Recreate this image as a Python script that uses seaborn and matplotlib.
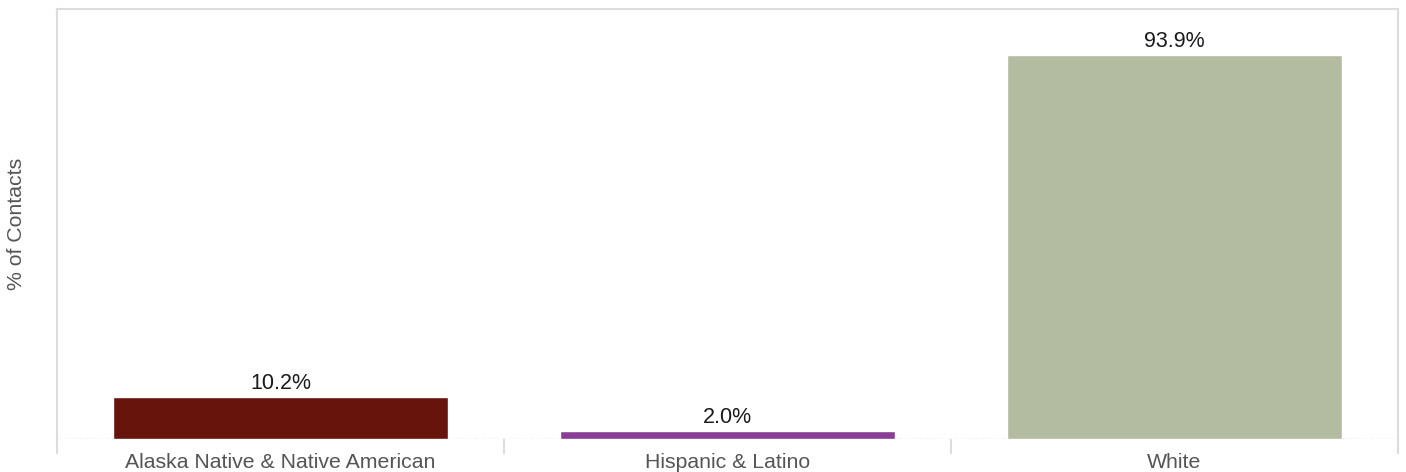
import matplotlib
matplotlib.use("Agg")
import matplotlib.pyplot as plt
import seaborn as sns
import pandas as pd

categories = ["Alaska Native & Native American", "Hispanic & Latino", "White"]
percent_contacts = [10.2, 2.0, 93.9]
bar_colors = ["#67140d", "#893e95", "#b3bca1"]

sns.set_theme(style="white")
plt.rcParams["font.family"] = ["Liberation Sans", "DejaVu Sans"]

df = pd.DataFrame({"group": categories, "pct": percent_contacts})

fig = plt.figure(figsize=(14.06, 4.72), dpi=100)
ax = fig.add_axes([57 / 1406, 1 - 439 / 472, (1398 - 57) / 1406, (439 - 9) / 472])

sns.barplot(data=df, x="group", y="pct", hue="group", palette=bar_colors,
            width=0.75, saturation=1, legend=False, ax=ax)

ax.set_ylim(0, 105.1)
ax.set_xlim(-0.5, len(categories) - 0.5)

for i, v in enumerate(percent_contacts):
    ax.text(i, v + 0.8, f"{v:.1f}%", ha="center", va="bottom",
            fontsize=15.5, color="#1a1a1a")

# frame: light solid sides/top, dashed zero line at the bottom
for side in ["left", "right", "top"]:
    ax.spines[side].set_color("#dcdcdc")
    ax.spines[side].set_linewidth(1.5)
ax.spines["bottom"].set_visible(False)
ax.axhline(0, color="#cccccc", lw=1, ls=(0, (3, 2)), zorder=0.5)

ax.set_yticks([])
ax.set_xticks(range(len(categories)))
ax.set_xticklabels(categories, fontsize=15.3, color="#555555")
ax.tick_params(axis="x", which="major", length=0, pad=10)
ax.set_xticks([-0.5, 0.5, 1.5, 2.5], minor=True)
ax.tick_params(axis="x", which="minor", length=11, width=1.5, color="#dcdcdc",
               bottom=True)

ax.set_xlabel("")
ax.set_ylabel("% of Contacts", fontsize=15.3, color="#555555", labelpad=22)

fig.savefig("out.png", dpi=100)
